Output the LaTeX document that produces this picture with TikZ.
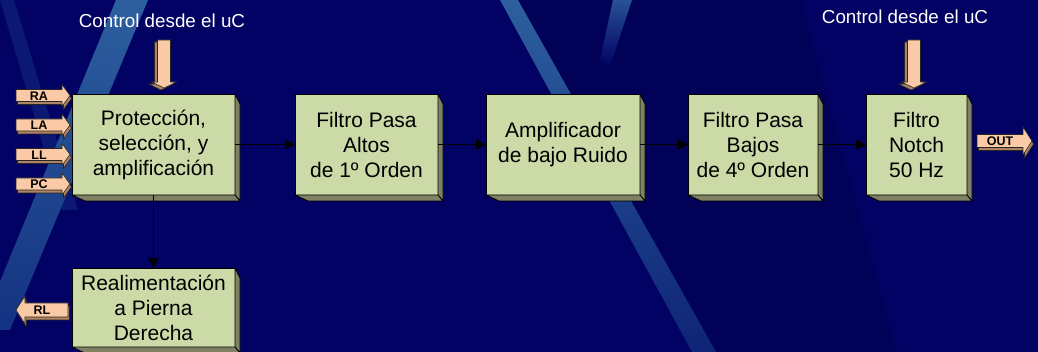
\documentclass[tikz,border=0pt]{standalone}
\usepackage{fontspec}
\setmainfont{Liberation Sans}
\usetikzlibrary{arrows.meta,calc}
\definecolor{bgc}{RGB}{2,2,100}
\definecolor{stripehi}{RGB}{45,95,158}
\definecolor{stripelo}{RGB}{20,50,130}
\definecolor{stripelo2}{RGB}{14,36,118}
\definecolor{boxfront}{RGB}{204,218,168}
\definecolor{boxside}{RGB}{126,130,98}
\definecolor{peachc}{RGB}{250,202,166}
\definecolor{peachdark}{RGB}{176,132,98}
\tikzset{
  blk/.style={draw=black, line width=0.8pt, fill=boxfront, inner sep=0pt, outer sep=0pt,
    align=center, font=\fontsize{21}{25}\selectfont},
  face/.style={draw=black, line width=0.8pt, fill=boxside, line join=round},
  conn/.style={draw=black, line width=1pt, -{Triangle[length=10pt,width=10pt]}},
  peachfront/.style={draw=black!85, line width=0.6pt, fill=peachc, line join=round},
  peachback/.style={draw=black!85, line width=0.6pt, fill=peachdark, line join=round},
  lab/.style={font=\fontsize{12.5}{12.5}\bfseries\selectfont, inner sep=0pt, text=black},
  ctrl/.style={text=white, font=\fontsize{18.8}{22}\selectfont, inner sep=0pt},
}
\begin{document}
\begin{tikzpicture}[x=1pt,y=-1pt]
\useasboundingbox (0,0) rectangle (1038,352);
\begin{scope}
\clip (0,0) rectangle (1038,352);
\fill[bgc] (0,0) rectangle (1038,352);
% background stripes
\fill[black, opacity=0.12] (518,0) -- (801,0) -- (897,352) -- (716,352) -- cycle;
\fill[stripehi, opacity=0.25] (0,0) -- (14,0) -- (78,210) -- (62,210) -- cycle;
\shade[top color=stripehi, bottom color=stripelo] (116,0) -- (148,0) -- (10,330) -- (-20,330) -- cycle;
\shade[top color=stripehi, bottom color=stripelo2] (500,0) -- (518,0) -- (716,352) -- (692,352) -- cycle;
\shade[top color=stripehi!85!bgc, bottom color=bgc] (613,0) -- (632,0) -- (610,66) -- (600,60) -- cycle;
\end{scope}

% blocks
\node[blk, minimum width=163pt, minimum height=101pt] (b1) at (153.5,144.5) {Protección,\\selección, y\\amplificación};
\node[blk, minimum width=143pt, minimum height=101pt] (b2) at (366.5,144.5) {Filtro Pasa\\Altos\\de 1º Orden};
\node[blk, minimum width=154pt, minimum height=101pt] (b3) at (563,144.5) {Amplificador\\de bajo Ruido};
\node[blk, minimum width=130pt, minimum height=101pt] (b4) at (753,144.5) {Filtro Pasa\\Bajos\\de 4º Orden};
\node[blk, minimum width=101pt, minimum height=101pt] (b5) at (916.5,144.5) {Filtro\\Notch\\50 Hz};
\node[blk, minimum width=163pt, minimum height=79pt] (b6) at (153.5,307.5) {Realimentación\\a Pierna\\Derecha};
\foreach \n in {b1,b2,b3,b4,b5,b6} {
  \path[face] (\n.north east) -- ++(5,10) -- ($(\n.south east)+(5,6)$) -- (\n.south east) -- cycle;
  \path[face] (\n.south west) -- ++(13,6) -- ($(\n.south east)+(5,6)$) -- (\n.south east) -- cycle;
}

% connectors
\draw[conn] (b1) -- (b2);
\draw[conn] (b2) -- (b3);
\draw[conn] (b3) -- (b4);
\draw[conn] (b4) -- (b5);
\draw[conn] (b1) -- (b6);

% control texts and down block arrows
\node[ctrl] (c1) at (162,21) {Control desde el uC};
\node[ctrl] (c2) at (905,17) {Control desde el uC};
\foreach \cx in {164,914} {
  \begin{scope}[shift={(\cx,0)}]
    \path[peachback] (-9.5,42) -- (3.5,42) -- (3.5,84) -- (9.5,84) -- (-3,90) -- (-15.5,84) -- (-9.5,84) -- cycle;
    \path[peachfront] (-6.5,40) -- (6.5,40) -- (6.5,82) -- (12.5,82) -- (0,88) -- (-12.5,82) -- (-6.5,82) -- cycle;
  \end{scope}
}

% input arrows
\foreach \lab/\yc in {RA/95.5, LA/125, LL/154.5, PC/184} {
  \begin{scope}[shift={(16,\yc)}]
    \path[peachback] (1.5,-3) -- (47.5,-3) -- (47.5,-8) -- (55.5,3) -- (47.5,14) -- (47.5,9) -- (1.5,9) -- cycle;
    \path[peachfront] (0,-6) -- (46,-6) -- (46,-11) -- (54,0) -- (46,11) -- (46,6) -- (0,6) -- cycle;
    \node[lab] (in\lab) at (23,0.5) {\lab};
  \end{scope}
}

% RL output arrow
\begin{scope}[shift={(16,310)}]
  \path[peachback] (1.5,3) -- (10.5,-11) -- (10.5,-4) -- (53.5,-4) -- (53.5,10) -- (10.5,10) -- (10.5,17) -- cycle;
  \path[peachfront] (0,0) -- (9,-14) -- (9,-7) -- (52,-7) -- (52,7) -- (9,7) -- (9,14) -- cycle;
  \node[lab] (outRL) at (26,0.5) {RL};
\end{scope}

% OUT arrow
\begin{scope}[shift={(977,141)}]
  \path[peachback] (1.5,-3.5) -- (47.5,-3.5) -- (47.5,-11) -- (56.5,3) -- (47.5,17) -- (47.5,9.5) -- (1.5,9.5) -- cycle;
  \path[peachfront] (0,-6.5) -- (46,-6.5) -- (46,-14) -- (55,0) -- (46,14) -- (46,6.5) -- (0,6.5) -- cycle;
  \node[lab] (outO) at (23,0.5) {OUT};
\end{scope}
\end{tikzpicture}
\end{document}
